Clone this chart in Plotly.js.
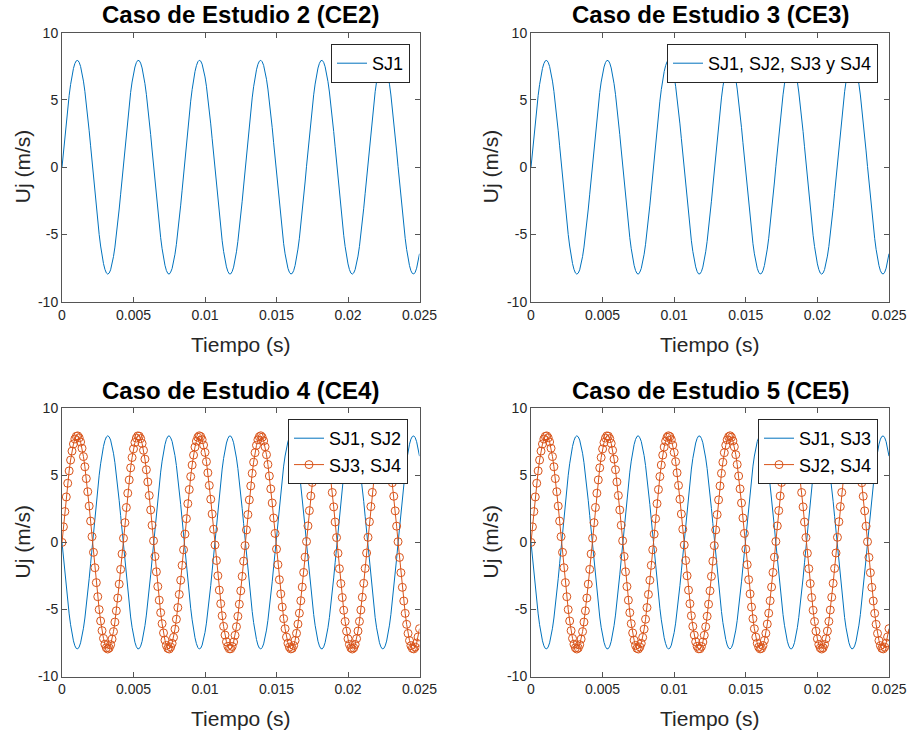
<!DOCTYPE html>
<html>
<head>
<meta charset="utf-8">
<script src="https://cdn.plot.ly/plotly-3.0.1.min.js"></script>
<style>
html, body { margin: 0; padding: 0; background: #ffffff; }
#chart { width: 914px; height: 732px; }
</style>
</head>
<body>
<div id="chart"></div>
<script>
// ---- Data ----
// Time axis: samples every 0.1 ms from 0 to 0.025 s
const T_START = 0;
const T_STEP = 0.0001;

// Uj (m/s) for the joints in phase with SJ1 of CE2/CE3 (also SJ3,SJ4 of CE4 and SJ2,SJ4 of CE5)
const UJ_POS = [
  0, 1.16, 2.30, 3.39, 4.41, 5.33, 6.14, 6.81, 7.34, 7.71,
  7.91, 7.94, 7.80, 7.49, 7.02, 6.40, 5.64, 4.76, 3.78, 2.71,
  1.59, 0.43, -0.74, -1.89, -3.00, -4.05, -5.01, -5.86, -6.58, -7.16,
  -7.59, -7.86, -7.95, -7.87, -7.63, -7.21, -6.65, -5.94, -5.10, -4.15,
  -3.11, -2.01, -0.86, 0.31, 1.47, 2.60, 3.67, 4.66, 5.56, 6.33,
  6.97, 7.45, 7.78, 7.94, 7.92, 7.74, 7.38, 6.87, 6.21, 5.42,
  4.51, 3.50, 2.42, 1.28, 0.12, -1.05, -2.19, -3.29, -4.31, -5.24,
  -6.06, -6.75, -7.29, -7.68, -7.90, -7.95, -7.80, -7.53, -7.08, -6.47,
  -5.73, -4.86, -3.88, -2.82, -1.71, -0.55, 0.62, 1.77, 2.89, 3.94,
  4.91, 5.77, 6.51, 7.11, 7.55, 7.84, 7.95, 7.89, 7.66, 7.26,
  6.71, 6.02, 5.19, 4.25, 3.22, 2.12, 0.98, -0.19, -1.35, -2.49,
  -3.56, -4.57, -5.47, -6.26, -6.91, -7.41, -7.75, -7.93, -7.93, -7.76,
  -7.43, -6.93, -6.29, -5.51, -4.61, -3.61, -2.53, -1.40, -0.24, 0.93,
  2.07, 3.17, 4.21, 5.15, 5.98, 6.69, 7.24, 7.65, 7.88, 7.95,
  7.84, 7.57, 7.13, 6.54, 5.81, 4.95, 3.99, 2.94, 1.82, 0.67,
  -0.50, -1.66, -2.78, -3.84, -4.82, -5.69, -6.44, -7.06, -7.52, -7.81,
  -7.94, -7.90, -7.69, -7.31, -6.78, -6.09, -5.28, -4.35, -3.33, -2.24,
  -1.10, 0.07, 1.23, 2.37, 3.46, 4.47, 5.38, 6.18, 6.85, 7.37,
  7.72, 7.92, 7.94, 7.79, 7.47, 6.99, 6.36, 5.59, 4.71, 3.72,
  2.65, 1.52, 0.36, -0.81, -1.96, -3.07, -4.11, -5.06, -5.90, -6.62,
  -7.19, -7.61, -7.87, -7.95, -7.86, -7.61, -7.18, -6.61, -5.89, -5.04,
  -4.09, -3.05, -1.94, -0.79, 0.38, 1.54, 2.67, 3.73, 4.72, 5.61,
  6.37, 7.00, 7.48, 7.79, 7.94, 7.91, 7.72, 7.36, 6.84, 6.17,
  5.37, 4.45, 3.44, 2.35, 1.21, 0.05, -1.12, -2.26, -3.35, -4.37,
  -5.29, -6.11, -6.79, -7.32, -7.70, -7.90, -7.94, -7.81, -7.51, -7.05,
  -6.43
];

// Uj (m/s) for the joints in opposite phase (SJ1,SJ2 of CE4 and SJ1,SJ3 of CE5)
const UJ_NEG = [
  0, -1.16, -2.30, -3.39, -4.41, -5.33, -6.14, -6.81, -7.34, -7.71,
  -7.91, -7.94, -7.80, -7.49, -7.02, -6.40, -5.64, -4.76, -3.78, -2.71,
  -1.59, -0.43, 0.74, 1.89, 3.00, 4.05, 5.01, 5.86, 6.58, 7.16,
  7.59, 7.86, 7.95, 7.87, 7.63, 7.21, 6.65, 5.94, 5.10, 4.15,
  3.11, 2.01, 0.86, -0.31, -1.47, -2.60, -3.67, -4.66, -5.56, -6.33,
  -6.97, -7.45, -7.78, -7.94, -7.92, -7.74, -7.38, -6.87, -6.21, -5.42,
  -4.51, -3.50, -2.42, -1.28, -0.12, 1.05, 2.19, 3.29, 4.31, 5.24,
  6.06, 6.75, 7.29, 7.68, 7.90, 7.95, 7.80, 7.53, 7.08, 6.47,
  5.73, 4.86, 3.88, 2.82, 1.71, 0.55, -0.62, -1.77, -2.89, -3.94,
  -4.91, -5.77, -6.51, -7.11, -7.55, -7.84, -7.95, -7.89, -7.66, -7.26,
  -6.71, -6.02, -5.19, -4.25, -3.22, -2.12, -0.98, 0.19, 1.35, 2.49,
  3.56, 4.57, 5.47, 6.26, 6.91, 7.41, 7.75, 7.93, 7.93, 7.76,
  7.43, 6.93, 6.29, 5.51, 4.61, 3.61, 2.53, 1.40, 0.24, -0.93,
  -2.07, -3.17, -4.21, -5.15, -5.98, -6.69, -7.24, -7.65, -7.88, -7.95,
  -7.84, -7.57, -7.13, -6.54, -5.81, -4.95, -3.99, -2.94, -1.82, -0.67,
  0.50, 1.66, 2.78, 3.84, 4.82, 5.69, 6.44, 7.06, 7.52, 7.81,
  7.94, 7.90, 7.69, 7.31, 6.78, 6.09, 5.28, 4.35, 3.33, 2.24,
  1.10, -0.07, -1.23, -2.37, -3.46, -4.47, -5.38, -6.18, -6.85, -7.37,
  -7.72, -7.92, -7.94, -7.79, -7.47, -6.99, -6.36, -5.59, -4.71, -3.72,
  -2.65, -1.52, -0.36, 0.81, 1.96, 3.07, 4.11, 5.06, 5.90, 6.62,
  7.19, 7.61, 7.87, 7.95, 7.86, 7.61, 7.18, 6.61, 5.89, 5.04,
  4.09, 3.05, 1.94, 0.79, -0.38, -1.54, -2.67, -3.73, -4.72, -5.61,
  -6.37, -7.00, -7.48, -7.79, -7.94, -7.91, -7.72, -7.36, -6.84, -6.17,
  -5.37, -4.45, -3.44, -2.35, -1.21, -0.05, 1.12, 2.26, 3.35, 4.37,
  5.29, 6.11, 6.79, 7.32, 7.70, 7.90, 7.94, 7.81, 7.51, 7.05,
  6.43
];

const X_TICKS = [0, 0.005, 0.01, 0.015, 0.02, 0.025];
const X_TICK_TEXT = ['0', '0.005', '0.01', '0.015', '0.02', '0.025'];
const Y_TICKS = [-10, -5, 0, 5, 10];
const Y_TICK_TEXT = ['-10', '-5', '0', '5', '10'];

const PANEL_TITLES = [
  'Caso de Estudio 2 (CE2)',
  'Caso de Estudio 3 (CE3)',
  'Caso de Estudio 4 (CE4)',
  'Caso de Estudio 5 (CE5)'
];
const X_LABEL = 'Tiempo (s)';
const Y_LABEL = 'Uj (m/s)';
const NAMES_CE2 = ['SJ1'];
const NAMES_CE3 = ['SJ1, SJ2, SJ3 y SJ4'];
const NAMES_CE4 = ['SJ1, SJ2', 'SJ3, SJ4'];
const NAMES_CE5 = ['SJ1, SJ3', 'SJ2, SJ4'];

// ---- Styling ----
const FONT = 'Liberation Sans, Arial, Helvetica, sans-serif';
const BLUE = '#0072BD';
const ORANGE = '#D95319';
const AXCOL = '#555555';

function lineTrace(y, name, xa, ya, leg) {
  return {
    type: 'scatter', mode: 'lines', x0: T_START, dx: T_STEP, y: y, name: name,
    xaxis: xa, yaxis: ya, legend: leg,
    line: { color: BLUE, width: 1 }, hoverinfo: 'x+y+name'
  };
}
function markerTrace(y, name, xa, ya, leg) {
  return {
    type: 'scatter', mode: 'lines+markers', x0: T_START, dx: T_STEP, y: y, name: name,
    xaxis: xa, yaxis: ya, legend: leg,
    line: { color: ORANGE, width: 1 },
    marker: { symbol: 'circle-open', size: 8, color: ORANGE, line: { color: ORANGE, width: 1 } },
    hoverinfo: 'x+y+name'
  };
}

const traces = [
  lineTrace(UJ_POS, NAMES_CE2[0], 'x', 'y', 'legend'),
  lineTrace(UJ_POS, NAMES_CE3[0], 'x2', 'y2', 'legend2'),
  lineTrace(UJ_NEG, NAMES_CE4[0], 'x3', 'y3', 'legend3'),
  markerTrace(UJ_POS, NAMES_CE4[1], 'x3', 'y3', 'legend3'),
  lineTrace(UJ_NEG, NAMES_CE5[0], 'x4', 'y4', 'legend4'),
  markerTrace(UJ_POS, NAMES_CE5[1], 'x4', 'y4', 'legend4')
];

const W = 914, H = 732;
const COL_L = [62 / W, 419.5 / W];
const COL_R = [531 / W, 889 / W];
const ROW_T = [1 - 301.7 / H, 1 - 32.7 / H];
const ROW_B = [1 - 676.5 / H, 1 - 408.3 / H];

function xAxis(domain, anchor) {
  return {
    domain: domain, anchor: anchor, range: [0, 0.025],
    tickmode: 'array', tickvals: X_TICKS, ticktext: X_TICK_TEXT,
    ticks: 'inside', ticklen: 5, tickwidth: 1, tickcolor: AXCOL,
    showline: true, linecolor: AXCOL, linewidth: 1, mirror: 'ticks',
    showgrid: false, zeroline: false,
    tickfont: { family: FONT, size: 14, color: '#262626' }, fixedrange: true
  };
}
function yAxis(domain, anchor) {
  return {
    domain: domain, anchor: anchor, range: [-10, 10],
    tickmode: 'array', tickvals: Y_TICKS, ticktext: Y_TICK_TEXT,
    ticks: 'inside', ticklen: 5, tickwidth: 1, tickcolor: AXCOL,
    showline: true, linecolor: AXCOL, linewidth: 1, mirror: 'ticks',
    showgrid: false, zeroline: false,
    tickfont: { family: FONT, size: 14, color: '#262626' }, fixedrange: true
  };
}
function legendAt(xr, yt) {
  return {
    x: xr / W, y: 1 - yt / H, xanchor: 'right', yanchor: 'top', xref: 'paper', yref: 'paper',
    bgcolor: '#ffffff', bordercolor: '#262626', borderwidth: 1,
    font: { family: FONT, size: 18, color: '#000000' },
    tracegroupgap: 0, itemclick: false, itemdoubleclick: false
  };
}

const mid = d => (d[0] + d[1]) / 2;
const annotations = [];
const cols = [COL_L, COL_R, COL_L, COL_R];
const rows = [ROW_T, ROW_T, ROW_B, ROW_B];
const titleY = [1 - 15 / H, 1 - 15 / H, 1 - 390 / H, 1 - 390 / H];
const xLabY = [1 - 344 / H, 1 - 344 / H, 1 - 718 / H, 1 - 718 / H];
const yLabX = [22 / W, 490 / W, 22 / W, 490 / W];
for (let i = 0; i < 4; i++) {
  annotations.push({
    text: '<b>' + PANEL_TITLES[i] + '</b>', xref: 'paper', yref: 'paper',
    x: mid(cols[i]), y: titleY[i], xanchor: 'center', yanchor: 'middle', showarrow: false,
    font: { family: FONT, size: 24, color: '#000000' }
  });
  annotations.push({
    text: X_LABEL, xref: 'paper', yref: 'paper',
    x: mid(cols[i]), y: xLabY[i], xanchor: 'center', yanchor: 'middle', showarrow: false,
    font: { family: FONT, size: 21, color: '#262626' }
  });
  annotations.push({
    text: Y_LABEL, xref: 'paper', yref: 'paper', textangle: -90,
    x: yLabX[i], y: mid(rows[i]), xanchor: 'center', yanchor: 'middle', showarrow: false,
    font: { family: FONT, size: 21, color: '#262626' }
  });
}

const layout = {
  width: W, height: H,
  margin: { l: 0, r: 0, t: 0, b: 0 },
  paper_bgcolor: '#ffffff', plot_bgcolor: '#ffffff',
  font: { family: FONT },
  xaxis: xAxis(COL_L, 'y'), yaxis: yAxis(ROW_T, 'x'),
  xaxis2: xAxis(COL_R, 'y2'), yaxis2: yAxis(ROW_T, 'x2'),
  xaxis3: xAxis(COL_L, 'y3'), yaxis3: yAxis(ROW_B, 'x3'),
  xaxis4: xAxis(COL_R, 'y4'), yaxis4: yAxis(ROW_B, 'x4'),
  legend: legendAt(410, 44),
  legend2: legendAt(878, 44),
  legend3: legendAt(408, 419),
  legend4: legendAt(878, 419),
  showlegend: true,
  annotations: annotations
};

Plotly.newPlot('chart', traces, layout, { displayModeBar: false, staticPlot: false });
</script>
</body>
</html>
